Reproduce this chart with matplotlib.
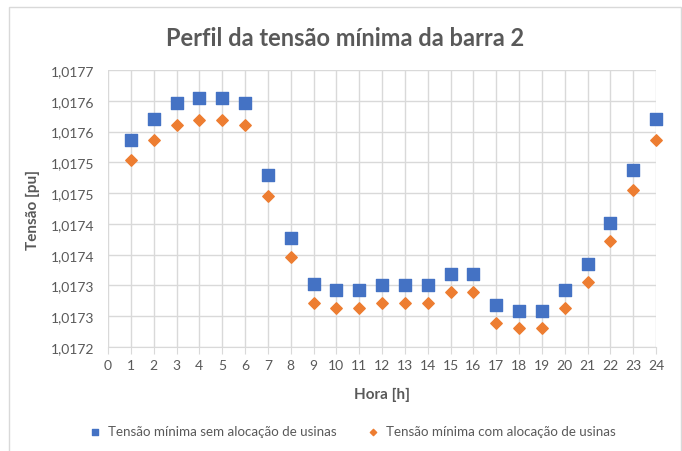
import matplotlib
matplotlib.use("Agg")
import matplotlib.pyplot as plt
from matplotlib.ticker import FuncFormatter, MultipleLocator
from matplotlib.patches import Rectangle

plt.rcParams["font.family"] = ["Lato", "DejaVu Sans"]

# hours and minimum voltage at bus 2 (pu)
hora = list(range(1, 25))
sem_alocacao = [1.017537, 1.017570, 1.017596, 1.017604, 1.017604, 1.017596,
                1.017479, 1.017377, 1.017302, 1.017293, 1.017293, 1.017301,
                1.017301, 1.017301, 1.017318, 1.017318, 1.017268, 1.017259,
                1.017259, 1.017293, 1.017335, 1.017402, 1.017487, 1.017570]
com_alocacao = [1.017504, 1.017537, 1.017561, 1.017569, 1.017569, 1.017561,
                1.017446, 1.017347, 1.017272, 1.017264, 1.017264, 1.017272,
                1.017272, 1.017272, 1.017289, 1.017289, 1.017239, 1.017231,
                1.017231, 1.017264, 1.017306, 1.017372, 1.017455, 1.017537]

GRAY = "#595959"
GRID = "#D9D9D9"
W, H = 682, 452

fig = plt.figure(figsize=(W / 100, H / 100), dpi=100)
fig.patches.append(Rectangle((9 / W, -0.01), 672 / W, 1 - 8 / H + 0.01,
                             transform=fig.transFigure, fill=False,
                             edgecolor="#D9D9D9", linewidth=1))

ax = fig.add_axes([108 / W, 104 / H, 548 / W, 277 / H])
ax.scatter(hora, sem_alocacao, marker="s", s=70, color="#4472C4",
           label="Tensão mínima sem alocação de usinas", zorder=3, clip_on=False)
ax.scatter(hora, com_alocacao, marker="D", s=34, color="#ED7D31",
           label="Tensão mínima com alocação de usinas", zorder=3, clip_on=False)

ax.set_xlim(0, 24)
ax.set_ylim(1.0172, 1.01765)
ax.xaxis.set_major_locator(MultipleLocator(1))
ax.yaxis.set_major_locator(MultipleLocator(0.00005))
ax.yaxis.set_major_formatter(FuncFormatter(
    lambda v, p: f"{round(v, 6) + 1e-9:.4f}".replace(".", ",")))

ax.grid(True, color=GRID, linewidth=1)
ax.set_axisbelow(True)
for s in ["top", "right", "left"]:
    ax.spines[s].set_visible(False)
ax.spines["bottom"].set_color(GRID)
ax.tick_params(axis="x", colors=GRAY, labelsize=10, length=5, color=GRID, pad=4)
ax.tick_params(axis="y", colors=GRAY, labelsize=10, length=0, pad=10)

ax.set_xlabel("Hora [h]", fontsize=11, fontweight="bold", color=GRAY, labelpad=11)
ax.set_ylabel("Tensão [pu]", fontsize=11, fontweight="bold", color=GRAY, labelpad=8)
fig.text(345 / W, 1 - 38 / H, "Perfil da tensão mínima da barra 2",
         ha="center", va="center", fontsize=17, fontweight="bold", color=GRAY)

fig.legend(loc="center", bbox_to_anchor=(349 / W, 1 - 432 / H), ncol=2,
           frameon=False, fontsize=9.6, labelcolor=GRAY, handletextpad=0.0,
           columnspacing=1.7, markerscale=0.55)

fig.savefig("out.png", dpi=100)
